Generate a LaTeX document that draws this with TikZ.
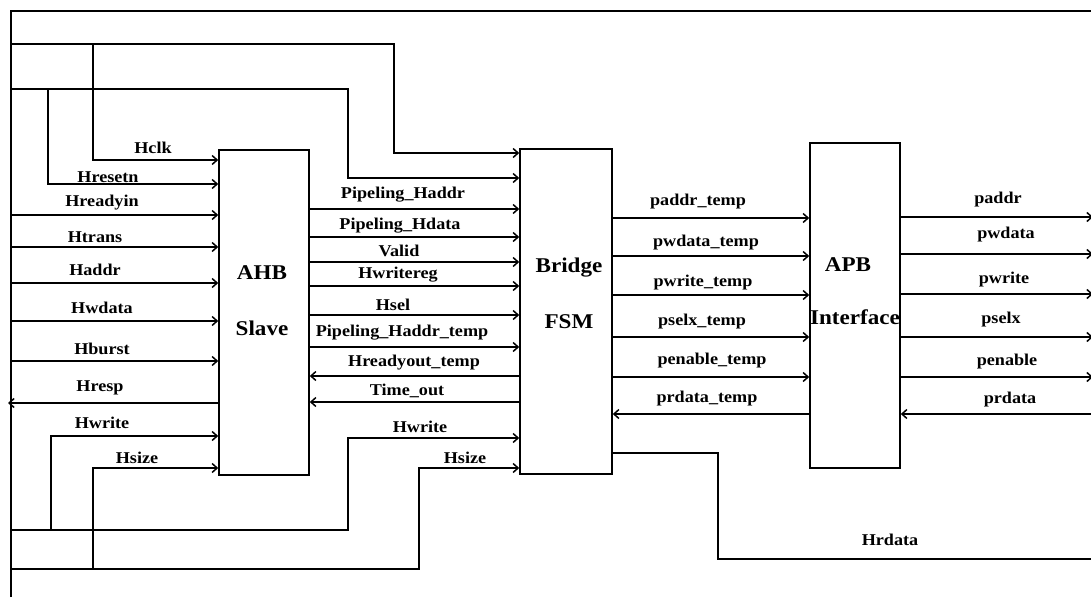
\documentclass[tikz,border=0pt]{standalone}
\usepackage{fontspec}
\setmainfont{Liberation Serif}[FakeStretch=1.1]
\usetikzlibrary{arrows.meta}
\tikzset{
  wire/.style={line width=1.5pt, line join=miter},
  arr/.style={wire, -{Straight Barb[length=5pt,width=9pt]}},
  lbl/.style={font=\bfseries\fontsize{16.5}{18}\selectfont, inner sep=0pt},
  boxlbl/.style={font=\bfseries\fontsize{21}{24}\selectfont, inner sep=0pt},
  blk/.style={draw, line width=1.6pt, minimum height=325pt, inner sep=0pt}
}
\begin{document}
\begin{tikzpicture}[x=1pt,y=-1pt]
\useasboundingbox (0,0) rectangle (1091,597);
% blocks
\node[blk, minimum width=90pt] (ahb) at (264,312.5) {};
\node[blk, minimum width=92pt] (fsm) at (566,311.5) {};
\node[blk, minimum width=90pt] (apb) at (855,305.5) {};
\node[boxlbl] (ahbA) at (262,273) {AHB};
\node[boxlbl] (ahbB) at (262,328) {Slave};
\node[boxlbl] (fsmA) at (569,268) {Bridge};
\node[boxlbl] (fsmB) at (569,322) {FSM};
\node[boxlbl] (apbA) at (848,265) {APB};
\node[boxlbl] (apbB) at (855,317) {Interface};
% named free ends
\coordinate (tl) at (11,11);
\coordinate (bl) at (11,597);
\coordinate (tr) at (1091,11);
% outer bus
\draw[wire] (bl) -- (tl) -- (tr);
\coordinate (a44) at (11,44);
\coordinate (a89) at (11,89);
\draw[arr] (a44) -- (394,44) -- (394,153) -- (fsm.west |- 0,153);
\draw[arr] (a89) -- (348,89) -- (348,178) -- (fsm.west |- 0,178);
\draw[arr] (93,44) -- (93,160) -- (ahb.west |- 0,160);
\draw[arr] (48,89) -- (48,184) -- (ahb.west |- 0,184);
% plain inputs
\foreach \yy in {215,247,283,321,361} {
  \coordinate (in\yy) at (11,\yy);
  \draw[arr] (in\yy) -- (ahb.west |- in\yy);
}
\coordinate (hrespend) at (8,403);
\draw[arr] (ahb.west |- hrespend) -- (hrespend);
% bottom loops
\coordinate (b530) at (11,530);
\coordinate (b569) at (11,569);
\draw[arr] (b530) -- (348,530) -- (348,438) -- (fsm.west |- 0,438);
\draw[arr] (b569) -- (419,569) -- (419,468) -- (fsm.west |- 0,468);
\draw[arr] (51,530) -- (51,436) -- (ahb.west |- 0,436);
\draw[arr] (93,569) -- (93,468) -- (ahb.west |- 0,468);
% left labels
\node[lbl] (lHclk) at (153,148) {Hclk};
\node[lbl] (lHresetn) at (108,177) {Hresetn};
\node[lbl] (lHreadyin) at (102,203) {Hreadyin};
\node[lbl] (lHtrans) at (95,237) {Htrans};
\node[lbl] (lHaddr) at (95,270) {Haddr};
\node[lbl] (lHwdata) at (102,308) {Hwdata};
\node[lbl] (lHburst) at (102,349) {Hburst};
\node[lbl] (lHresp) at (100,388) {Hresp};
\node[lbl] (lHwrite) at (102,423) {Hwrite};
\node[lbl] (lHsize) at (137,458) {Hsize};
% AHB -> FSM
\foreach \yy in {209,237,262,286,315,347} {
  \draw[arr] (ahb.east |- 0,\yy) -- (fsm.west |- 0,\yy);
}
\foreach \yy in {376,402} {
  \draw[arr] (fsm.west |- 0,\yy) -- (ahb.east |- 0,\yy);
}
\node[lbl] (m1) at (403,195) {Pipeling\_Haddr};
\node[lbl] (m2) at (400,226) {Pipeling\_Hdata};
\node[lbl] (m3) at (399,251) {Valid};
\node[lbl] (m4) at (398,275) {Hwritereg};
\node[lbl] (m5) at (393,305) {Hsel};
\node[lbl] (m6) at (402,333) {Pipeling\_Haddr\_temp};
\node[lbl] (m7) at (414,363) {Hreadyout\_temp};
\node[lbl] (m8) at (407,391) {Time\_out};
\node[lbl] (m9) at (420,427) {Hwrite};
\node[lbl] (m10) at (465,458) {Hsize};
% FSM -> APB
\foreach \yy in {218,256,295,337,377} {
  \draw[arr] (fsm.east |- 0,\yy) -- (apb.west |- 0,\yy);
}
\draw[arr] (apb.west |- 0,414) -- (fsm.east |- 0,414);
\node[lbl] (p1) at (698,202) {paddr\_temp};
\node[lbl] (p2) at (706,243) {pwdata\_temp};
\node[lbl] (p3) at (703,283) {pwrite\_temp};
\node[lbl] (p4) at (702,322) {pselx\_temp};
\node[lbl] (p5) at (712,361) {penable\_temp};
\node[lbl] (p6) at (707,399) {prdata\_temp};
% APB outputs
\foreach \yy in {217,254,294,337,377} {
  \coordinate (o\yy) at (1093,\yy);
  \draw[arr] (apb.east |- o\yy) -- (o\yy);
}
\coordinate (oin) at (1091,414);
\draw[arr] (oin) -- (apb.east |- oin);
\node[lbl] (q1) at (998,200) {paddr};
\node[lbl] (q2) at (1006,235) {pwdata};
\node[lbl] (q3) at (1004,280) {pwrite};
\node[lbl] (q4) at (1001,320) {pselx};
\node[lbl] (q5) at (1007,362) {penable};
\node[lbl] (q6) at (1010,400) {prdata};
% Hrdata
\coordinate (hr) at (1091,559);
\draw[wire] (fsm.east |- 0,453) -- (718,453) -- (718,559) -- (hr);
\node[lbl] (lHrdata) at (890,540) {Hrdata};
\end{tikzpicture}
\end{document}
